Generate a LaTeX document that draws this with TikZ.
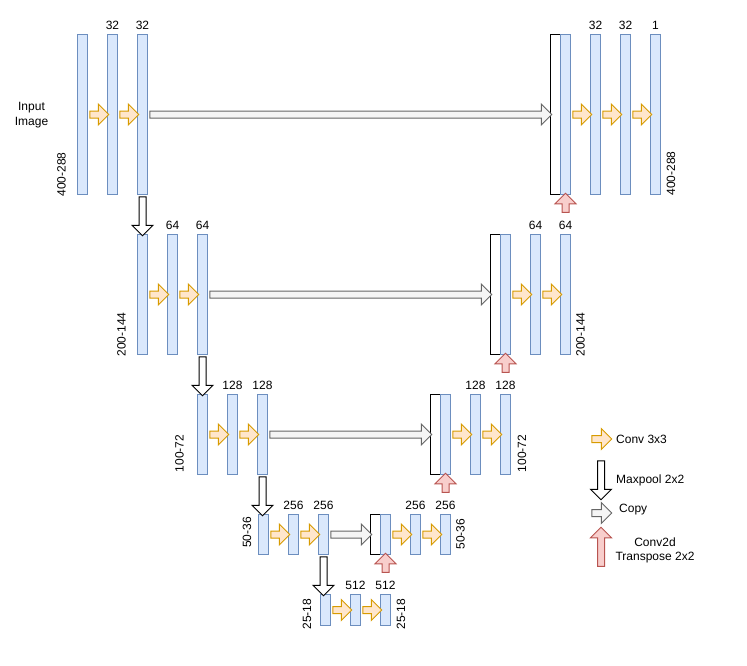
\documentclass[tikz,border=0pt]{standalone}
\usepackage{fontspec}
\setmainfont{Liberation Sans}
\usetikzlibrary{positioning,calc,shapes.arrows}

\definecolor{barfill}{HTML}{DAE8FC}
\definecolor{barline}{HTML}{6C8EBF}
\definecolor{convfill}{HTML}{FFE6CC}
\definecolor{convline}{HTML}{D79B00}
\definecolor{copyfill}{HTML}{F5F5F5}
\definecolor{copyline}{HTML}{666666}
\definecolor{upfill}{HTML}{F8CECC}
\definecolor{upline}{HTML}{B85450}

% 粗箭頭:從 #2 指到 #3,樣式 #1
\newcommand{\blockarrow}[3]{%
  \path let \p1=(#2), \p2=(#3), \n1={veclen(\x2-\x1,\y2-\y1)} in
    (#2) -- (#3) node[midway, sloped, allow upside down, #1, minimum height=\n1] {};}

\begin{document}
\begin{tikzpicture}[
        x=1pt, y=-1pt,
        font=\fontsize{12}{14.5}\selectfont,
        % 定義特徵圖 (feature map) 樣式:藍框、淺藍底
        bar/.style={
            rectangle,
            draw=barline,
            fill=barfill,
            line width=1pt,
            inner sep=0pt,
            minimum width=10pt,
            anchor=north west
        },
        % 拼接用的黑框
        concat/.style={
            bar,
            draw=black,
            fill=white
        },
        % 箭頭的共同樣式
        arrowbase/.style={
            single arrow,
            single arrow head extend=7pt,
            single arrow tip angle=90,
            inner xsep=0pt,
            inner ysep=3pt,
            minimum width=0pt,
            outer sep=0pt,
            line width=1pt
        },
        conv/.style={arrowbase, draw=convline, fill=convfill},
        pool/.style={arrowbase, draw=black, fill=white},
        copyarrow/.style={arrowbase, draw=copyline, fill=copyfill},
        upconv/.style={arrowbase, draw=upline, fill=upfill},
        % 文字樣式
        num/.style={inner sep=0pt},
        dim/.style={rotate=90, inner sep=0pt}
    ]
        \useasboundingbox (0,0) rectangle (747,665);

        % --- 1. 第一層 (400-288) ---
        \node[bar, minimum height=160] (e11) at (77,34) {};
        \node[bar, minimum height=160] (e12) at (107,34) {};
        \node[bar, minimum height=160] (e13) at (137,34) {};
        \node[concat, minimum height=160] (c1) at (550,34) {};
        \node[bar, minimum height=160] (d11) at (560,34) {};
        \node[bar, minimum height=160] (d12) at (590,34) {};
        \node[bar, minimum height=160] (d13) at (620,34) {};
        \node[bar, minimum height=160] (d14) at (650,34) {};

        \node[num, above=4.5pt of e12] (n12) {32};
        \node[num, above=4.5pt of e13] (n13) {32};
        \node[num, above=4.5pt of d12] (m12) {32};
        \node[num, above=4.5pt of d13] (m13) {32};
        \node[num, above=4.5pt of d14] (m14) {1};
        \node[align=center, inner sep=0pt] (inp) at (31.5,115) {Input\\Image};
        \node[dim] (s1l) at (61.5,174.5) {400-288};
        \node[dim] (s1r) at (671,173.5) {400-288};

        % --- 2. 第二層 (200-144) ---
        \node[bar, minimum height=120] (e21) at (137,234) {};
        \node[bar, minimum height=120] (e22) at (167,234) {};
        \node[bar, minimum height=120] (e23) at (197,234) {};
        \node[concat, minimum height=120] (c2) at (490,234) {};
        \node[bar, minimum height=120] (d21) at (500,234) {};
        \node[bar, minimum height=120] (d22) at (530,234) {};
        \node[bar, minimum height=120] (d23) at (560,234) {};

        \node[num, above=4.5pt of e22] (n22) {64};
        \node[num, above=4.5pt of e23] (n23) {64};
        \node[num, above=4.5pt of d22] (m22) {64};
        \node[num, above=4.5pt of d23] (m23) {64};
        \node[dim] (s2l) at (121.5,334.5) {200-144};
        \node[dim] (s2r) at (580.5,334.5) {200-144};

        % --- 3. 第三層 (100-72) ---
        \node[bar, minimum height=80] (e31) at (197,394) {};
        \node[bar, minimum height=80] (e32) at (227,394) {};
        \node[bar, minimum height=80] (e33) at (257,394) {};
        \node[concat, minimum height=80] (c3) at (430,394) {};
        \node[bar, minimum height=80] (d31) at (440,394) {};
        \node[bar, minimum height=80] (d32) at (470,394) {};
        \node[bar, minimum height=80] (d33) at (500,394) {};

        \node[num, above=4.5pt of e32] (n32) {128};
        \node[num, above=4.5pt of e33] (n33) {128};
        \node[num, above=4.5pt of d32] (m32) {128};
        \node[num, above=4.5pt of d33] (m33) {128};
        \node[dim] (s3l) at (179.5,453.5) {100-72};
        \node[dim] (s3r) at (522,453.5) {100-72};

        % --- 4. 第四層 (50-36) ---
        \node[bar, minimum height=40] (e41) at (258,514) {};
        \node[bar, minimum height=40] (e42) at (288,514) {};
        \node[bar, minimum height=40] (e43) at (318,514) {};
        \node[concat, minimum height=40] (c4) at (370,514) {};
        \node[bar, minimum height=40] (d41) at (380,514) {};
        \node[bar, minimum height=40] (d42) at (410,514) {};
        \node[bar, minimum height=40] (d43) at (440,514) {};

        \node[num, above=4.5pt of e42] (n42) {256};
        \node[num, above=4.5pt of e43] (n43) {256};
        \node[num, above=4.5pt of d42] (m42) {256};
        \node[num, above=4.5pt of d43] (m43) {256};
        \node[dim] (s4l) at (247,532.5) {50-36};
        \node[dim] (s4r) at (460.5,534) {50-36};

        % --- 5. 最底層 (25-18) ---
        \node[bar, minimum height=31] (e51) at (320,594) {};
        \node[bar, minimum height=31] (e52) at (350,594) {};
        \node[bar, minimum height=31] (e53) at (380,594) {};

        \node[num, above=4.5pt of e52] (n52) {512};
        \node[num, above=4.5pt of e53] (n53) {512};
        \node[dim] (s5l) at (307,614) {25-18};
        \node[dim] (s5r) at (401,614) {25-18};

        % --- 6. 卷積 (Conv 3x3) 箭頭 ---
        \blockarrow{conv}{e11.east}{e12.west}
        \blockarrow{conv}{e12.east}{e13.west}
        \blockarrow{conv}{d11.east}{d12.west}
        \blockarrow{conv}{d12.east}{d13.west}
        \blockarrow{conv}{d13.east}{d14.west}
        \blockarrow{conv}{e21.east}{e22.west}
        \blockarrow{conv}{e22.east}{e23.west}
        \blockarrow{conv}{d21.east}{d22.west}
        \blockarrow{conv}{d22.east}{d23.west}
        \blockarrow{conv}{e31.east}{e32.west}
        \blockarrow{conv}{e32.east}{e33.west}
        \blockarrow{conv}{d31.east}{d32.west}
        \blockarrow{conv}{d32.east}{d33.west}
        \blockarrow{conv}{e41.east}{e42.west}
        \blockarrow{conv}{e42.east}{e43.west}
        \blockarrow{conv}{d41.east}{d42.west}
        \blockarrow{conv}{d42.east}{d43.west}
        \blockarrow{conv}{e51.east}{e52.west}
        \blockarrow{conv}{e52.east}{e53.west}

        % --- 7. 複製 (Copy) 箭頭 ---
        \blockarrow{copyarrow}{e13.east}{c1.west}
        \blockarrow{copyarrow}{e23.east}{c2.west}
        \blockarrow{copyarrow}{e33.east}{c3.west}
        \blockarrow{copyarrow}{e43.east}{c4.west}

        % --- 8. 池化 (Maxpool) 箭頭,垂直向下 ---
        \blockarrow{pool}{e13.south}{e13.south |- e21.north}
        \blockarrow{pool}{e23.south}{e23.south |- e31.north}
        \blockarrow{pool}{e33.south}{e33.south |- e41.north}
        \blockarrow{pool}{e43.south}{e43.south |- e51.north}

        % --- 9. 反卷積 (Conv2d Transpose) 短箭頭 ---
        \coordinate[below=19pt of d11] (t1);
        \coordinate[below=19pt of d21] (t2);
        \coordinate[below=19pt of d31] (t3);
        \coordinate[below=19pt of d41] (t4);
        \blockarrow{upconv}{t1}{d11.south}
        \blockarrow{upconv}{t2}{d21.south}
        \blockarrow{upconv}{t3}{d31.south}
        \blockarrow{upconv}{t4}{d41.south}

        % --- 10. 圖例 ---
        \coordinate (lc1) at (590,439);
        \coordinate (lc2) at (610,439);
        \blockarrow{conv}{lc1}{lc2}
        \node[anchor=west, inner sep=0pt] (lconv) at (616,439) {Conv 3x3};

        \coordinate (lp1) at (601,459);
        \coordinate (lp2) at (601,498);
        \blockarrow{pool}{lp1}{lp2}
        \node[anchor=west, inner sep=0pt] (lpool) at (616,480) {Maxpool 2x2};

        \coordinate (ly1) at (590,513);
        \coordinate (ly2) at (610,513);
        \blockarrow{copyarrow}{ly1}{ly2}
        \node[anchor=west, inner sep=0pt] (lcopy) at (619,510) {Copy};

        \coordinate (lt1) at (601,568);
        \coordinate (lt2) at (601,529);
        \blockarrow{upconv}{lt1}{lt2}
        \node[align=center, inner sep=0pt, font=\fontsize{12}{14}\selectfont] (lup) at (655,550) {Conv2d\\Transpose 2x2};

    \end{tikzpicture}
\end{document}
